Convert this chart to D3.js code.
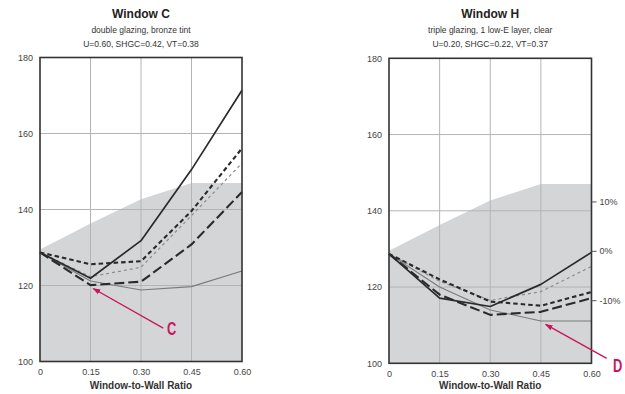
<!DOCTYPE html>
<html>
<head>
<meta charset="utf-8">
<script src="https://cdn.jsdelivr.net/npm/d3@7"></script>
<style>
  body { margin: 0; background: #fff; }
  svg { display: block; font-family: "Liberation Sans", Arial, sans-serif; }
  .tick text { fill: #444; font-size: 9px; }
</style>
</head>
<body>
<svg id="chart" width="625" height="394"></svg>
<script>
// window-to-wall ratio categories
var wwr = [0, 0.15, 0.30, 0.45, 0.60];
var wwrLabels = ["0", "0.15", "0.30", "0.45", "0.60"];
var yTicks = [100, 120, 140, 160, 180];
var pctTicks = [-10, 0, 10];
var pctBase = 129.5;

// grey band (same in both panels)
var band = [129.5, 136.3, 142.7, 147.0, 147.0];

// Window C
var cSolid     = [128.7, 121.9, 131.8, 150.5, 171.4];
var cThickDash = [128.7, 125.6, 126.4, 139.6, 156.1];
var cThinDash  = [128.7, 122.3, 124.8, 138.4, 152.2];
var cLongDash  = [128.7, 120.1, 121.0, 130.8, 144.6];
var cThinSolid = [128.7, 121.2, 118.8, 119.7, 123.8];

// Window H
var hSolid     = [128.7, 117.1, 114.9, 120.7, 129.1];
var hThickDash = [128.7, 122.0, 116.2, 115.1, 118.7];
var hThinDash  = [128.7, 121.5, 116.5, 118.8, 125.4];
var hLongDash  = [128.7, 118.0, 112.7, 113.5, 117.1];
var hThinSolid = [128.7, 120.0, 114.0, 111.1, 111.1];

var styles = {
    solid:     {stroke: "#2a2a2a", width: 1.7, dash: null},
    thickDash: {stroke: "#2a2a2a", width: 2.1, dash: "4.5,3"},
    thinDash:  {stroke: "#8c8c8c", width: 1.2, dash: "3,3"},
    longDash:  {stroke: "#2a2a2a", width: 2.1, dash: "10,4"},
    thinSolid: {stroke: "#7a7a7a", width: 1.1, dash: null}
};

var panels = [
    {title: "Window C", sub1: "double glazing, bronze tint", sub2: "U=0.60, SHGC=0.42, VT=0.38",
     x0: 40, x1: 242, y0: 361.5, y1: 57.5, pct: false,
     series: {thinSolid: cThinSolid, thinDash: cThinDash, longDash: cLongDash, thickDash: cThickDash, solid: cSolid},
     note: {label: "C", tail: [0.366, 108.8], tip: [0.158, 119.2], lx: 167, ly: 335}},
    {title: "Window H", sub1: "triple glazing, 1 low-E layer, clear", sub2: "U=0.20, SHGC=0.22, VT=0.37",
     x0: 389, x1: 591.5, y0: 363.3, y1: 58.3, pct: true,
     series: {thinSolid: hThinSolid, thinDash: hThinDash, longDash: hLongDash, thickDash: hThickDash, solid: hSolid},
     note: {label: "D", tail: [0.645, 101.3], tip: [0.464, 110.2], lx: 613, ly: 372}}
];

var svg = d3.select("#chart");
var red = "#c8165c";

svg.append("defs").append("marker")
    .attr("id", "head")
    .attr("viewBox", "0 0 10 10")
    .attr("refX", 9).attr("refY", 5)
    .attr("markerWidth", 6).attr("markerHeight", 6)
    .attr("orient", "auto")
    .append("path")
    .attr("d", "M0,1.5L10,5L0,8.5Z")
    .attr("fill", red);

panels.forEach(function (p) {
    var x = d3.scalePoint().domain(wwr).range([p.x0, p.x1]);
    var xl = d3.scaleLinear().domain([0, 0.6]).range([p.x0, p.x1]);
    var y = d3.scaleLinear().domain([100, 180]).range([p.y0, p.y1]);
    var g = svg.append("g");
    var cx = (p.x0 + p.x1) / 2;

    // titles
    g.append("text").attr("x", cx).attr("y", 18).attr("text-anchor", "middle")
        .attr("font-size", 12).attr("font-weight", "bold").attr("fill", "#222").text(p.title);
    g.append("text").attr("x", cx).attr("y", 33).attr("text-anchor", "middle")
        .attr("font-size", 8.5).attr("fill", "#333").text(p.sub1);
    g.append("text").attr("x", cx).attr("y", 47).attr("text-anchor", "middle")
        .attr("font-size", 8.5).attr("fill", "#333").text(p.sub2);

    // shaded band
    var area = d3.area()
        .x(function (d, i) { return x(wwr[i]); })
        .y0(y(100))
        .y1(function (d) { return y(d); });
    g.append("path").datum(band).attr("d", area).attr("fill", "#d4d5d7");

    // grid
    g.selectAll(".vg").data(wwr.slice(1, -1)).enter().append("line")
        .attr("x1", function (d) { return x(d); }).attr("x2", function (d) { return x(d); })
        .attr("y1", y(100)).attr("y2", y(180))
        .attr("stroke", "#b4b4b4").attr("stroke-width", 1);
    g.selectAll(".hg").data(yTicks.slice(1, -1)).enter().append("line")
        .attr("x1", p.x0).attr("x2", p.x1)
        .attr("y1", function (d) { return y(d); }).attr("y2", function (d) { return y(d); })
        .attr("stroke", "#b4b4b4").attr("stroke-width", 1);

    // series lines
    var line = d3.line()
        .x(function (d, i) { return x(wwr[i]); })
        .y(function (d) { return y(d); });
    Object.keys(p.series).forEach(function (k) {
        var s = styles[k];
        g.append("path").datum(p.series[k])
            .attr("d", line)
            .attr("fill", "none")
            .attr("stroke", s.stroke)
            .attr("stroke-width", s.width)
            .attr("stroke-dasharray", s.dash)
            .attr("stroke-linejoin", "round");
    });

    // frame
    g.append("rect").attr("x", p.x0).attr("y", p.y1)
        .attr("width", p.x1 - p.x0).attr("height", p.y0 - p.y1)
        .attr("fill", "none").attr("stroke", "#333").attr("stroke-width", 1.6);

    // axes
    g.append("g").attr("transform", "translate(" + p.x0 + ",0)")
        .call(d3.axisLeft(y).tickValues(yTicks).tickSize(0).tickPadding(7))
        .call(function (a) { a.select(".domain").remove(); });
    g.append("g").attr("transform", "translate(0," + p.y0 + ")")
        .call(d3.axisBottom(x).tickSize(0).tickPadding(7)
            .tickFormat(function (d, i) { return wwrLabels[i]; }))
        .call(function (a) { a.select(".domain").remove(); });

    g.append("text").attr("x", cx).attr("y", 389).attr("text-anchor", "middle")
        .attr("font-size", 10).attr("font-weight", "bold").attr("fill", "#333")
        .text("Window-to-Wall Ratio");

    if (p.pct) {
        var yp = d3.scaleLinear().domain([-10, 10])
            .range([y(pctBase * 0.9), y(pctBase * 1.1)]);
        g.append("g").attr("transform", "translate(" + p.x1 + ",0)")
            .call(d3.axisRight(yp).tickValues(pctTicks).tickSize(5).tickPadding(3)
                .tickFormat(function (d) { return d + "%"; }))
            .call(function (a) {
                a.select(".domain").remove();
                a.selectAll("line").attr("stroke", "#555");
            });
    }

    // annotation arrow + letter (condensed)
    var n = p.note;
    g.append("line")
        .attr("x1", xl(n.tail[0])).attr("y1", y(n.tail[1]))
        .attr("x2", xl(n.tip[0])).attr("y2", y(n.tip[1]))
        .attr("stroke", red).attr("stroke-width", 1.3)
        .attr("marker-end", "url(#head)");
    g.append("text")
        .attr("transform", "translate(" + n.lx + "," + n.ly + ") scale(0.68,1)")
        .attr("font-weight", "bold").attr("font-size", 19)
        .attr("fill", red).text(n.label);
});
</script>
</body>
</html>
